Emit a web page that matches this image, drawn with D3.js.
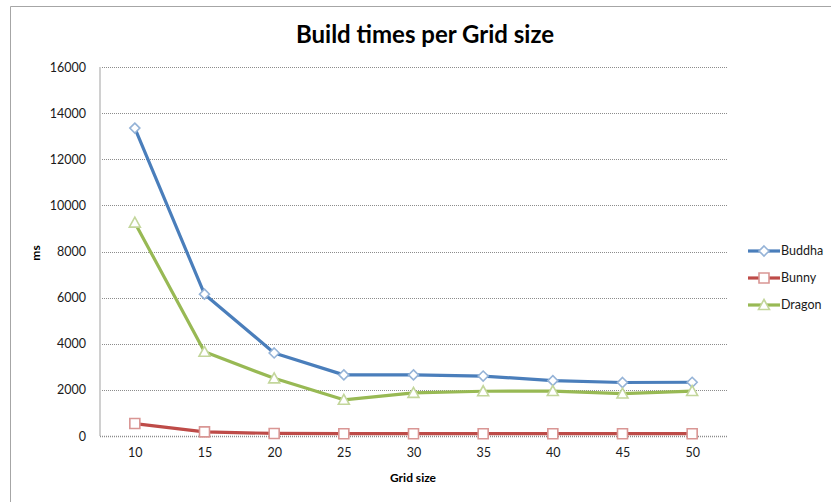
<!DOCTYPE html>
<html>
<head>
<meta charset="utf-8">
<script src="https://cdn.jsdelivr.net/npm/d3@7"></script>
<style>
  html, body { margin: 0; padding: 0; background: #fff; }
  svg { display: block; font-family: Lato, "Open Sans", "Liberation Sans", sans-serif; }
</style>
</head>
<body>
<svg id="chart" width="831" height="502"></svg>
<script>
// Grid sizes on the x axis
const gridSizes = [10, 15, 20, 25, 30, 35, 40, 45, 50];
// Build times in milliseconds, per model
const buddha = [13350, 6150, 3600, 2650, 2650, 2600, 2400, 2320, 2330];
const bunny  = [540, 180, 110, 100, 100, 100, 100, 100, 100];
const dragon = [9250, 3650, 2500, 1570, 1870, 1940, 1950, 1840, 1950];
const yTicks = [0, 2000, 4000, 6000, 8000, 10000, 12000, 14000, 16000];
const seriesNames = ["Buddha", "Bunny", "Dragon"];

const series = [
  { name: seriesNames[0], values: buddha, line: "#4a7ebb", mark: "#95b3d7", shape: "diamond" },
  { name: seriesNames[1], values: bunny,  line: "#be4b48", mark: "#d99694", shape: "square" },
  { name: seriesNames[2], values: dragon, line: "#98b954", mark: "#c3d69b", shape: "triangle" }
];

const svg = d3.select("#chart");
const plot = { left: 100, right: 727, top: 67, bottom: 436 };

const x = d3.scalePoint().domain(gridSizes).range([plot.left, plot.right]).padding(0.5);
const y = d3.scaleLinear().domain([0, 16000]).range([plot.bottom, plot.top]);

// outer chart frame
svg.append("path")
  .attr("d", "M10.5,502 L10.5,6.5 L831,6.5")
  .attr("fill", "none").attr("stroke", "#a6a6a6").attr("stroke-width", 1);

// title
svg.append("text")
  .attr("x", 425).attr("y", 43)
  .attr("text-anchor", "middle")
  .attr("font-size", 24).attr("font-weight", "bold").attr("fill", "#000")
  .text("Build times per Grid size");

// horizontal gridlines (dotted)
svg.append("g").selectAll("line")
  .data(yTicks.filter(d => d > 0))
  .join("line")
  .attr("x1", plot.left).attr("x2", plot.right)
  .attr("y1", d => Math.round(y(d)) + 0.5).attr("y2", d => Math.round(y(d)) + 0.5)
  .attr("stroke", "#8c8c8c").attr("stroke-width", 1).attr("stroke-dasharray", "1,1");

// y axis
const yAxis = d3.axisLeft(y).tickValues(yTicks).tickSize(0).tickPadding(14).tickFormat(d3.format("d"));
const yg = svg.append("g").attr("transform", `translate(${plot.left},0)`).call(yAxis);
yg.select(".domain").remove();
yg.selectAll("text").attr("font-size", 12.5).attr("fill", "#1a1a1a").attr("font-family", "Lato, sans-serif");
svg.append("line")
  .attr("x1", plot.left).attr("x2", plot.left)
  .attr("y1", plot.top).attr("y2", plot.bottom)
  .attr("stroke", "#d0d0d0").attr("stroke-width", 2);

// x axis
const xAxis = d3.axisBottom(x).tickSize(0).tickPadding(12);
const xg = svg.append("g").attr("transform", `translate(0,${plot.bottom})`).call(xAxis);
xg.select(".domain").remove();
xg.selectAll("text").attr("font-size", 12.5).attr("fill", "#1a1a1a").attr("font-family", "Lato, sans-serif");
svg.append("line")
  .attr("x1", plot.left).attr("x2", plot.right)
  .attr("y1", plot.bottom + 0.5).attr("y2", plot.bottom + 0.5)
  .attr("stroke", "#8c8c8c").attr("stroke-width", 1.5).attr("stroke-dasharray", "1,1");

// axis titles
svg.append("text")
  .attr("x", 413).attr("y", 482)
  .attr("text-anchor", "middle")
  .attr("font-size", 12).attr("font-weight", "bold").attr("fill", "#000")
  .text("Grid size");
svg.append("text")
  .attr("transform", "translate(40,253) rotate(-90)")
  .attr("text-anchor", "middle")
  .attr("font-size", 12).attr("font-weight", "bold").attr("fill", "#000")
  .text("ms");

function markerPath(shape) {
  if (shape === "diamond") return "M0,-5 L5,0 L0,5 L-5,0 Z";
  if (shape === "square") return "M-5,-5 L5,-5 L5,5 L-5,5 Z";
  return "M0,-5.5 L5.5,4.5 L-5.5,4.5 Z";
}

const line = d3.line().x((d, i) => x(gridSizes[i])).y(d => y(d));

series.forEach(s => {
  svg.append("path")
    .datum(s.values)
    .attr("d", line)
    .attr("fill", "none")
    .attr("stroke", s.line)
    .attr("stroke-width", 3.2)
    .attr("stroke-linejoin", "round");
  svg.append("g").selectAll("path")
    .data(s.values)
    .join("path")
    .attr("transform", (d, i) => `translate(${x(gridSizes[i])},${y(d)})`)
    .attr("d", markerPath(s.shape))
    .attr("fill", "#fff")
    .attr("stroke", s.mark)
    .attr("stroke-width", 1.6);
});

// legend
const legend = svg.append("g");
series.forEach((s, i) => {
  const ly = 251 + i * 27;
  legend.append("line")
    .attr("x1", 748).attr("x2", 780).attr("y1", ly).attr("y2", ly)
    .attr("stroke", s.line).attr("stroke-width", 3.2);
  legend.append("path")
    .attr("transform", `translate(764,${ly})`)
    .attr("d", markerPath(s.shape))
    .attr("fill", "#fff").attr("stroke", s.mark).attr("stroke-width", 1.6);
  legend.append("text")
    .attr("x", 781).attr("y", ly + 4)
    .attr("font-size", 12.5).attr("fill", "#1a1a1a")
    .text(s.name);
});
</script>
</body>
</html>
